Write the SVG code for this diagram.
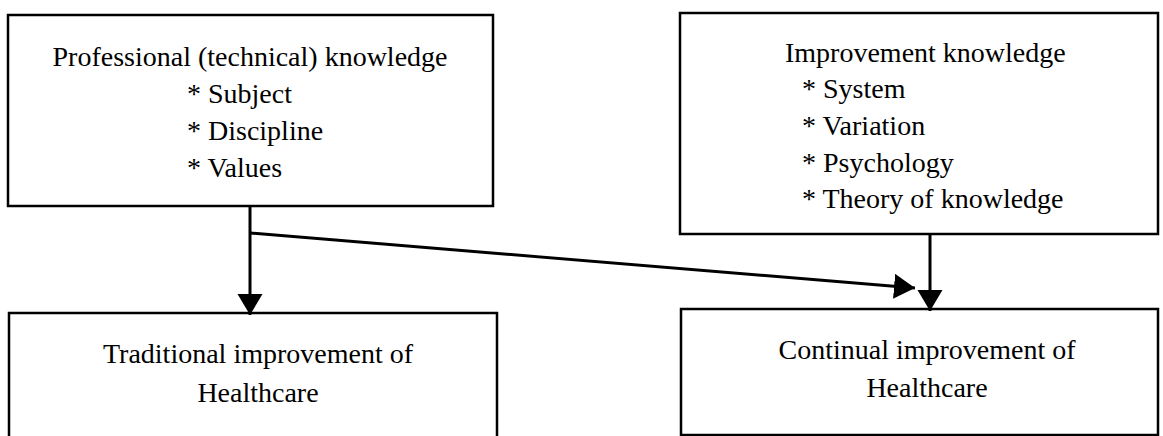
<svg xmlns="http://www.w3.org/2000/svg" width="1163" height="436" viewBox="0 0 1163 436">
  <style>
    .box { fill: none; stroke: #000; stroke-width: 2.5; }
    .t { font-family: "Liberation Serif", "Times New Roman", serif; font-size: 28px; fill: #000; }
    .c { text-anchor: middle; }
    .conn { stroke: #000; stroke-width: 3; fill: none; }
  </style>
  <defs>
    <marker id="arr" markerUnits="userSpaceOnUse" markerWidth="22" markerHeight="26" refX="21" refY="12.5" orient="auto" viewBox="0 0 22 26">
      <path d="M0,0 L21,12.5 L0,25 Z" fill="#000"/>
    </marker>
  </defs>
  <rect width="1163" height="436" fill="#fff"/>

  <g id="professional">
    <rect class="box" x="8" y="15" width="485" height="191"/>
    <text class="t c" x="250" y="66">Professional (technical) knowledge</text>
    <text class="t" x="187" y="103">* Subject</text>
    <text class="t" x="187" y="140">* Discipline</text>
    <text class="t" x="187" y="177">* Values</text>
  </g>

  <g id="improvement">
    <rect class="box" x="680" y="13" width="478" height="221"/>
    <text class="t" x="785" y="62">Improvement knowledge</text>
    <text class="t" x="802" y="98">* System</text>
    <text class="t" x="802" y="135">* Variation</text>
    <text class="t" x="802" y="172">* Psychology</text>
    <text class="t" x="802" y="208">* Theory of knowledge</text>
  </g>

  <g id="traditional">
    <path class="box" d="M9,437 L9,313 L497,313 L497,437"/>
    <text class="t c" x="258" y="363">Traditional improvement of</text>
    <text class="t c" x="258" y="402">Healthcare</text>
  </g>

  <g id="continual">
    <rect class="box" x="681" y="309" width="477" height="126"/>
    <text class="t c" x="927" y="359">Continual improvement of</text>
    <text class="t c" x="927" y="397">Healthcare</text>
  </g>

  <g id="connectors">
    <line class="conn" x1="250" y1="206" x2="250" y2="315" marker-end="url(#arr)"/>
    <line class="conn" x1="250" y1="233" x2="915" y2="288" marker-end="url(#arr)"/>
    <line class="conn" x1="930" y1="234" x2="930" y2="311" marker-end="url(#arr)"/>
  </g>
</svg>
